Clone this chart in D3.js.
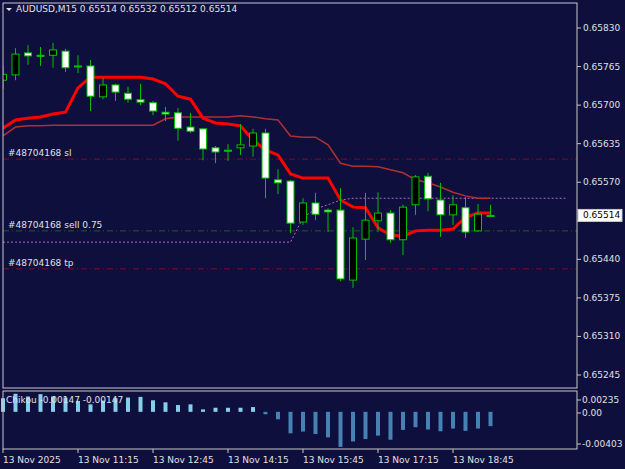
<!DOCTYPE html>
<html>
<head>
<meta charset="UTF-8">
<script src="https://d3js.org/d3.v7.min.js"></script>
<style>
  body { margin: 0; background: #0f0f3d; }
  text { font-family: "DejaVu Sans", sans-serif; font-size: 9px; fill: #e0e0e0; }
</style>
</head>
<body>
<svg id="chart" width="625" height="469"></svg>
<script>
// candles, 15 min bars
const opens  = [0.65742,0.65751,0.65788,0.65784,0.65784,0.65791,0.65766,0.65766,0.65714,0.65734,0.65720,0.65709,0.65704,0.65688,0.65687,0.65663,0.65660,0.65628,0.65624,0.65628,0.65631,0.65653,0.65574,0.65572,0.65503,0.65535,0.65523,0.65523,0.65405,0.65474,0.65505,0.65518,0.65473,0.65532,0.65580,0.65540,0.65515,0.65527,0.65488,0.65514];
const highs  = [0.65766,0.65796,0.65801,0.65798,0.65805,0.65795,0.65784,0.65776,0.65746,0.65736,0.65731,0.65736,0.65707,0.65697,0.65695,0.65687,0.65660,0.65631,0.65634,0.65668,0.65660,0.65660,0.65592,0.65574,0.65543,0.65552,0.65526,0.65560,0.65494,0.65552,0.65553,0.65523,0.65532,0.65582,0.65586,0.65569,0.65548,0.65545,0.65533,0.65532];
const lows   = [0.65727,0.65742,0.65768,0.65766,0.65763,0.65756,0.65754,0.65690,0.65710,0.65707,0.65704,0.65700,0.65683,0.65673,0.65640,0.65653,0.65607,0.65602,0.65606,0.65616,0.65613,0.65543,0.65550,0.65484,0.65498,0.65506,0.65486,0.65403,0.65392,0.65439,0.65486,0.65468,0.65447,0.65515,0.65521,0.65478,0.65498,0.65476,0.65486,0.65512];
const closes = [0.65752,0.65786,0.65783,0.65783,0.65793,0.65763,0.65766,0.65715,0.65734,0.65722,0.65710,0.65705,0.65690,0.65685,0.65661,0.65656,0.65626,0.65621,0.65623,0.65633,0.65653,0.65577,0.65569,0.65501,0.65535,0.65516,0.65520,0.65407,0.65476,0.65506,0.65518,0.65473,0.65528,0.65579,0.65542,0.65515,0.65532,0.65486,0.65516,0.65514];

const fastLine = [0.65661,0.65675,0.65678,0.65680,0.65685,0.65688,0.65729,0.65747,0.65747,0.65747,0.65747,0.65747,0.65744,0.65736,0.65715,0.65710,0.65678,0.65670,0.65668,0.65665,0.65641,0.65624,0.65616,0.65584,0.65577,0.65577,0.65577,0.65540,0.65528,0.65527,0.65493,0.65481,0.65479,0.65488,0.65489,0.65489,0.65491,0.65511,0.65518,0.65518];
const slowLine = [0.65648,0.65663,0.65665,0.65665,0.65666,0.65666,0.65666,0.65666,0.65666,0.65666,0.65666,0.65666,0.65666,0.65677,0.65680,0.65680,0.65680,0.65680,0.65680,0.65682,0.65680,0.65677,0.65675,0.65648,0.65646,0.65646,0.65633,0.65602,0.65597,0.65597,0.65596,0.65591,0.65586,0.65574,0.65569,0.65562,0.65553,0.65547,0.65543,0.65543];
// dotted line runs 6 bars past the last candle
const dottedLine = [0.65469,0.65469,0.65469,0.65469,0.65469,0.65469,0.65469,0.65469,0.65469,0.65469,0.65469,0.65469,0.65469,0.65469,0.65469,0.65469,0.65469,0.65469,0.65469,0.65469,0.65469,0.65469,0.65469,0.65469,0.65510,0.65525,0.65532,0.65540,0.65543,0.65543,0.65543,0.65543,0.65543,0.65543,0.65543,0.65543,0.65543,0.65543,0.65543,0.65543,0.65543,0.65543,0.65543,0.65543,0.65543,0.65543];

const chikou = [0.00140,0.00186,0.00158,0.00182,0.00158,0.00147,0.00112,0.00077,0.00116,0.00140,0.00147,0.00154,0.00119,0.00098,0.00070,0.00077,0.00025,0.00042,0.00042,0.00042,0.00049,-0.00025,-0.00077,-0.00221,-0.00203,-0.00228,-0.00263,-0.00361,-0.00305,-0.00280,-0.00245,-0.00287,-0.00186,-0.00158,-0.00182,-0.00200,-0.00172,-0.00196,-0.00172,-0.00147];

const priceTicks = [0.65830,0.65765,0.65700,0.65635,0.65570,0.65505,0.65440,0.65375,0.65310,0.65245];
const timeTickIdx = [0,6,12,18,24,30,36];
const timeLabels = ["13 Nov 2025","13 Nov 11:15","13 Nov 12:45","13 Nov 14:15","13 Nov 15:45","13 Nov 17:15","13 Nov 18:45"];
const orderLines = [
  { label: "#48704168 sl", price: 0.65609, color: "#7a1020" },
  { label: "#48704168 sell 0.75", price: 0.65488, color: "#1d5a2a" },
  { label: "#48704168 tp", price: 0.65424, color: "#7a1020" }
];
const chikouAxis = [0.00235, 0.00, -0.00403];

const L = 3, R = 577, T = 3, mainB = 388, subT = 391, subB = 449;
const svg = d3.select("#chart");

const x = d3.scaleLinear().domain([0, 1]).range([3, 15.5]);
const y = d3.scaleLinear().domain([0.65245, 0.65830]).range([375, 28]);
const ySub = d3.scaleLinear().domain([-0.00403, 0.00235]).range([451, 389]);

svg.append("rect").attr("width", 625).attr("height", 469).attr("fill", "#0f0f3d");

svg.append("clipPath").attr("id", "mainclip")
  .append("rect").attr("x", L).attr("y", T).attr("width", R - L).attr("height", mainB - T);
const g = svg.append("g").attr("clip-path", "url(#mainclip)");

// order lines
orderLines.forEach((o) => {
  g.append("line").attr("x1", L).attr("x2", R)
    .attr("y1", y(o.price)).attr("y2", y(o.price))
    .attr("stroke", o.color).attr("stroke-dasharray", "6,3,1,3");
  g.append("text").attr("x", 8).attr("y", y(o.price) - 3).text(o.label);
});

// indicator lines
const line = (arr) => d3.line().x((d, i) => x(i)).y((d) => y(d))(arr);
g.append("path").attr("d", line(dottedLine)).attr("fill", "none")
  .attr("stroke", "#b468c8").attr("stroke-dasharray", "2,2");
g.append("path").attr("d", line(slowLine)).attr("fill", "none")
  .attr("stroke", "#b03030").attr("stroke-width", 1.5);
g.append("path").attr("d", line(fastLine)).attr("fill", "none")
  .attr("stroke", "#ff0000").attr("stroke-width", 3);

// candles
opens.forEach((o, i) => {
  const c = closes[i];
  g.append("line").attr("x1", x(i)).attr("x2", x(i))
    .attr("y1", y(highs[i])).attr("y2", y(lows[i]))
    .attr("stroke", "#00c000");
  const top = y(Math.max(o, c)), bot = y(Math.min(o, c));
  g.append("rect").attr("x", x(i) - 3.5).attr("y", top)
    .attr("width", 7).attr("height", Math.max(bot - top, 1))
    .attr("fill", c > o ? "#000000" : "#ffffff")
    .attr("stroke", "#00c000").attr("stroke-width", 1);
});

// chikou histogram
chikou.forEach((v, i) => {
  svg.append("rect").attr("x", x(i) - 2).attr("width", 4)
    .attr("y", ySub(Math.max(v, 0))).attr("height", Math.abs(ySub(v) - ySub(0)))
    .attr("fill", v >= 0 ? "#87ceeb" : "#4682b4");
});
svg.append("text").attr("x", 6).attr("y", 403).text("Chikou -0.00147 -0.00147");

// frames
svg.append("rect").attr("x", L).attr("y", T).attr("width", R - L).attr("height", mainB - T)
  .attr("fill", "none").attr("stroke", "#c8c8c8");
svg.append("rect").attr("x", L).attr("y", subT).attr("width", R - L).attr("height", subB - subT)
  .attr("fill", "none").attr("stroke", "#c8c8c8");

// right price axis (0.65505 hidden behind the last-price box, as in the terminal)
const last = closes[closes.length - 1];
priceTicks.forEach((p) => {
  svg.append("line").attr("x1", R).attr("x2", R + 4).attr("y1", y(p)).attr("y2", y(p)).attr("stroke", "#c8c8c8");
  if (Math.abs(y(p) - y(last)) > 10)
    svg.append("text").attr("x", R + 6).attr("y", y(p) + 3).text(p.toFixed(5));
});
chikouAxis.forEach((v, i) => {
  const yy = [400, 413, 444][i];
  svg.append("line").attr("x1", R).attr("x2", R + 4).attr("y1", yy).attr("y2", yy).attr("stroke", "#c8c8c8");
  svg.append("text").attr("x", R + 5).attr("y", yy + 3).text(v === 0 ? "0.00" : v.toFixed(5));
});
svg.append("rect").attr("x", R + 1).attr("y", y(last) - 6).attr("width", 44).attr("height", 12)
  .attr("fill", "#ffffff").attr("stroke", "#c8c8c8");
svg.append("text").attr("x", R + 6).attr("y", y(last) + 3).style("fill", "#000").text(last.toFixed(5));

// time axis
timeTickIdx.forEach((idx, k) => {
  svg.append("line").attr("x1", x(idx)).attr("x2", x(idx)).attr("y1", subB).attr("y2", subB + 4).attr("stroke", "#c8c8c8");
  svg.append("text").attr("x", x(idx)).attr("y", 463).text(timeLabels[k]);
});

// title
svg.append("path").attr("d", "M6,8 L12,8 L9,11 Z").attr("fill", "#e0e0e0");
svg.append("text").attr("x", 16).attr("y", 12).text(`AUDUSD,M15  ${opens[39].toFixed(5)} ${highs[39].toFixed(5)} ${lows[39].toFixed(5)} ${closes[39].toFixed(5)}`);
</script>
</body>
</html>
